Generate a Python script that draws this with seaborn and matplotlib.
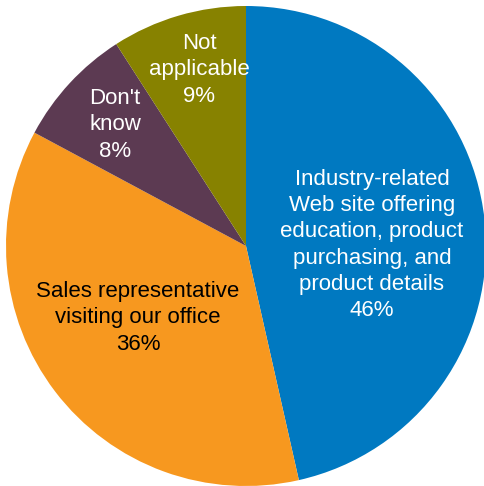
import matplotlib
matplotlib.use("Agg")
import matplotlib.pyplot as plt
import seaborn as sns

categories = [
    "Industry-related\nWeb site offering\neducation, product\npurchasing, and\nproduct details",
    "Sales representative\nvisiting our office",
    "Don't\nknow",
    "Not\napplicable",
]
shares = [46, 36, 8, 9]
colors = ["#0079C1", "#F7981F", "#5C3A52", "#878200"]
text_colors = ["white", "black", "white", "white"]
# label anchor points (figure pixels, y from top)
label_xy = [(372, 245), (138, 318), (115, 125), (199, 70)]

sns.set_theme(style="white")
plt.rcParams["font.family"] = ["Liberation Sans", "DejaVu Sans"]

fig = plt.figure(figsize=(4.85, 4.86), dpi=100)
ax = fig.add_axes([0, 0, 1, 1])
ax.axis("off")

ax.pie(shares, colors=colors, startangle=90, counterclock=False,
       center=(246, 486 - 246), radius=240,
       wedgeprops=dict(linewidth=0))
ax.set_xlim(0, 485)
ax.set_ylim(0, 486)
ax.set_aspect("equal")

for cat, val, (x, y), tc in zip(categories, shares, label_xy, text_colors):
    ax.text(x, 486 - y, f"{cat}\n{val}%", ha="center", va="center",
            color=tc, fontsize=16, linespacing=1.32)

fig.savefig("out.png", dpi=100)
